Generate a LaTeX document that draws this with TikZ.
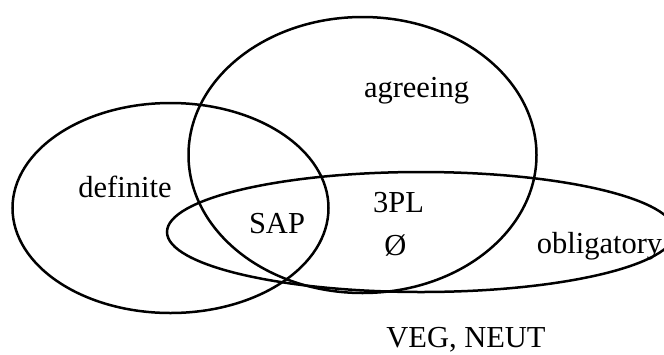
\documentclass[tikz,border=0pt]{standalone}
\usepackage{fontspec}
\setmainfont{Liberation Serif}
\begin{document}
\begin{tikzpicture}[x=1pt,y=-1pt,
  setline/.style={line width=2.5pt, black},
  lbl/.style={font=\fontsize{30.5}{36}\selectfont, inner sep=0pt, anchor=base}]
  \useasboundingbox (0,0) rectangle (664,354);
  \clip (0,0) rectangle (664,354);
  % the three sets
  \draw[setline] (170.5,208) ellipse [x radius=158, y radius=105];
  \draw[setline] (362.5,155) ellipse [x radius=174, y radius=138];
  \draw[setline] (421,232) ellipse [x radius=254, y radius=60];
  % labels
  \node[lbl] (agreeing) at (416.5,97) {agreeing};
  \node[lbl] (definite) at (125,197) {definite};
  \node[lbl] (sap) at (277,233) {SAP};
  \node[lbl] (thirdpl) at (398.5,212) {3PL};
  \node[lbl] (zero) at (395.5,255) {Ø};
  \node[lbl] (oblig) at (599.5,253) {obligatory};
  \node[lbl] (vegneut) at (466,347) {VEG, NEUT};
\end{tikzpicture}
\end{document}
